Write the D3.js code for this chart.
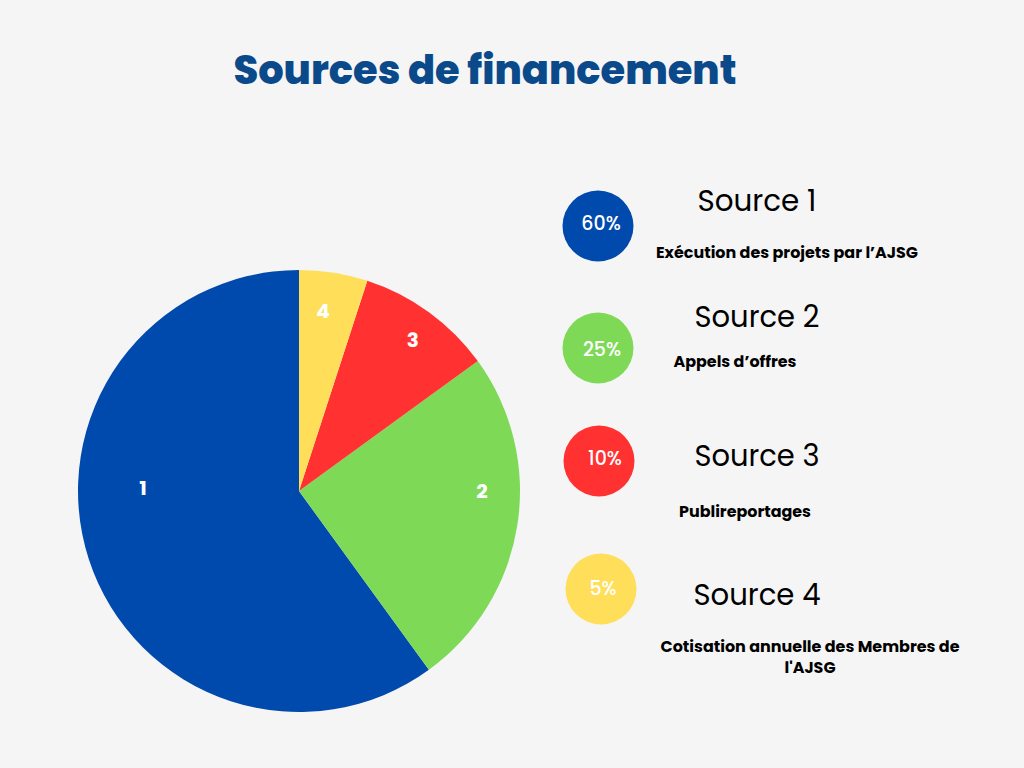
<!DOCTYPE html>
<html>
<head>
<meta charset="utf-8">
<script src="https://cdn.jsdelivr.net/npm/d3@7"></script>
<style>
  html, body { margin: 0; padding: 0; background: #f5f5f5; }
  svg { display: block; font-family: Poppins, Inter, "Open Sans", sans-serif; }
</style>
</head>
<body>
<svg id="chart" width="1024" height="768"></svg>
<script>
// data
var sources = ["Source 1", "Source 2", "Source 3", "Source 4"];
var sliceLabels = ["1", "2", "3", "4"];
var shares = [60, 25, 10, 5];
var percentLabels = ["60%", "25%", "10%", "5%"];
var descriptions = [
  ["Exécution des projets par l’AJSG"],
  ["Appels d’offres"],
  ["Publireportages"],
  ["Cotisation annuelle des Membres de", "l'AJSG"]
];
var colors = ["#004aad", "#7ed957", "#ff3131", "#ffde59"];

// layout (tuned by eye)
var cx = 299, cy = 491, radius = 221;
var labelAngles = [271, 90, 37, 7.6];   // degrees, clockwise from top
var labelRadii = [156, 183, 189, 182];
var rowY = [226, 348, 461, 589];
var rowX = [598, 598, 599, 601];
var titleDy = [-15, -21, 5, 16];
var titleW = [119, 125, 125, 127];
var descDy = [32, 19, 56, 63];
var descX = [787, 735, 745, 810];
var descW = [[262], [123], [132], [299, 51]];
var pctDy = [4, 8, 4, 6];
var pctX = [601, 602, 605, 603];

var svg = d3.select("#chart");

svg.append("text")
  .attr("x", 485).attr("y", 84)
  .attr("text-anchor", "middle")
  .attr("font-size", 40).attr("font-weight", 800)
  .attr("fill", "#0a4a8a")
  .attr("textLength", 503).attr("lengthAdjust", "spacingAndGlyphs")
  .text("Sources de financement");

// pie: source 1 goes counter-clockwise from the top, so 4,3,2,1 read clockwise
var pie = d3.pie().sort(null).value(function(d) { return d; })
  .startAngle(2 * Math.PI).endAngle(0);
var arc = d3.arc().innerRadius(0).outerRadius(radius);

var g = svg.append("g").attr("transform", "translate(" + cx + "," + cy + ")");

g.selectAll("path")
  .data(pie(shares))
  .enter()
  .append("path")
  .attr("d", arc)
  .attr("fill", function(d, i) { return colors[i]; });

g.selectAll("text.slice")
  .data(sliceLabels)
  .enter()
  .append("text")
  .attr("class", "slice")
  .attr("x", function(d, i) { return labelRadii[i] * Math.sin(labelAngles[i] * Math.PI / 180); })
  .attr("y", function(d, i) { return -labelRadii[i] * Math.cos(labelAngles[i] * Math.PI / 180); })
  .attr("dy", "0.36em")
  .attr("text-anchor", "middle")
  .attr("font-size", 20).attr("font-weight", 700)
  .attr("fill", "#ffffff")
  .text(function(d) { return d; });

// legend
var rows = svg.selectAll("g.row")
  .data(sources)
  .enter()
  .append("g")
  .attr("class", "row");

rows.append("circle")
  .attr("cx", function(d, i) { return rowX[i]; })
  .attr("cy", function(d, i) { return rowY[i]; })
  .attr("r", 35.5)
  .attr("fill", function(d, i) { return colors[i]; });

rows.append("text")
  .attr("x", function(d, i) { return pctX[i]; })
  .attr("y", function(d, i) { return rowY[i] + pctDy[i]; })
  .attr("text-anchor", "middle")
  .attr("font-size", 19).attr("font-weight", 500)
  .attr("fill", "#ffffff")
  .text(function(d, i) { return percentLabels[i]; });

rows.append("text")
  .attr("x", 757)
  .attr("y", function(d, i) { return rowY[i] + titleDy[i]; })
  .attr("text-anchor", "middle")
  .attr("font-size", 30)
  .attr("fill", "#000000")
  .attr("textLength", function(d, i) { return titleW[i]; })
  .attr("lengthAdjust", "spacingAndGlyphs")
  .text(function(d) { return d; });

rows.each(function(d, i) {
  d3.select(this).selectAll("text.desc")
    .data(descriptions[i])
    .enter()
    .append("text")
    .attr("class", "desc")
    .attr("x", descX[i])
    .attr("y", function(line, j) { return rowY[i] + descDy[i] + j * 21; })
    .attr("text-anchor", "middle")
    .attr("font-size", 15).attr("font-weight", 700)
    .attr("fill", "#000000")
    .attr("textLength", function(line, j) { return descW[i][j]; })
    .attr("lengthAdjust", "spacingAndGlyphs")
    .text(function(line) { return line; });
});
</script>
</body>
</html>
